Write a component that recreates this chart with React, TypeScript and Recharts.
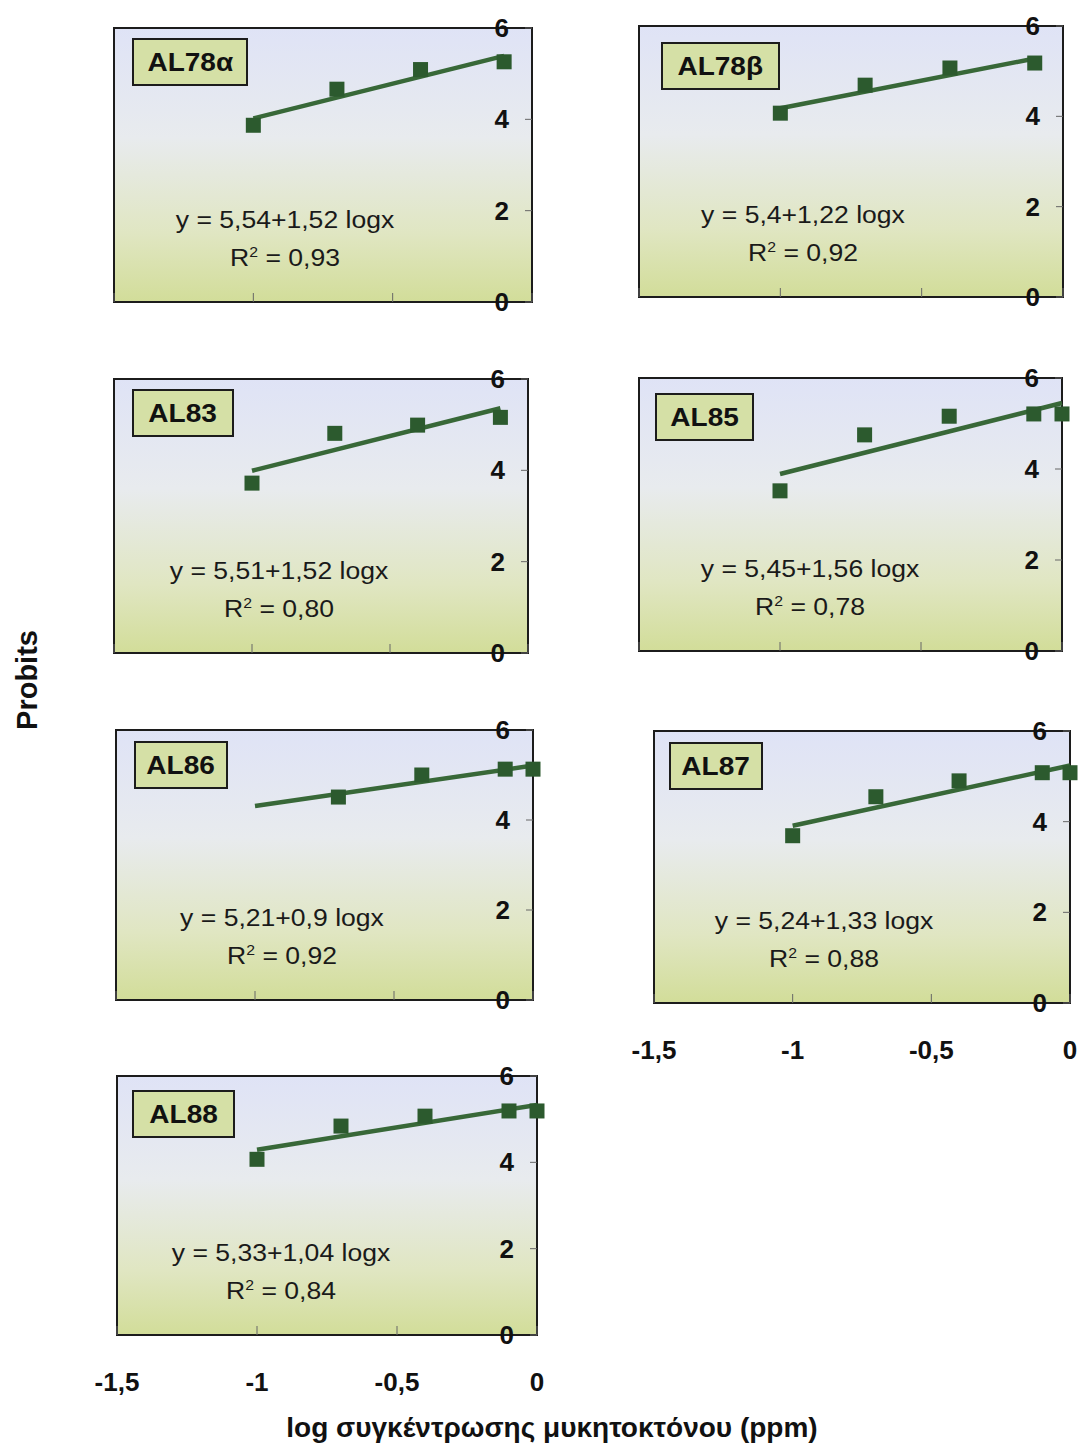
import { ComposedChart, Line, Scatter, XAxis, YAxis, ReferenceArea } from "recharts";

// log10 of the fungicide dose (0.1, 0.2, 0.4, 0.8, 1 ppm)
const LOG_DOSE = [-1, -0.7, -0.4, -0.1, 0];
const X_TICKS = [-1.5, -1, -0.5, 0];
const Y_TICKS = [0, 2, 4, 6];

// observed probits per isolate (null = no point drawn)
const AL78A = [3.87, 4.66, 5.09, 5.26, null];
const AL78B = [4.07, 4.69, 5.07, 5.18, null];
const AL83 = [3.72, 4.81, 4.99, 5.16, null];
const AL85 = [3.52, 4.75, 5.16, 5.21, 5.21];
const AL86 = [null, 4.51, 5.0, 5.13, 5.13];
const AL87 = [3.69, 4.55, 4.9, 5.08, 5.08];
const AL88 = [4.07, 4.84, 5.07, 5.19, 5.19];

// regression line end points [x, y]
const FIT_AL78A = [[-1, 4.02], [-0.1, 5.39]];
const FIT_AL78B = [[-1, 4.18], [-0.1, 5.28]];
const FIT_AL83 = [[-1, 3.99], [-0.1, 5.36]];
const FIT_AL85 = [[-1, 3.89], [0, 5.45]];
const FIT_AL86 = [[-1, 4.31], [0, 5.21]];
const FIT_AL87 = [[-1, 3.91], [0, 5.24]];
const FIT_AL88 = [[-1, 4.29], [0, 5.33]];

const NAMES = ["AL78α", "AL78β", "AL83", "AL85", "AL86", "AL87", "AL88"];
const EQUATIONS = [
  "y = 5,54+1,52 logx",
  "y = 5,4+1,22 logx",
  "y = 5,51+1,52 logx",
  "y = 5,45+1,56 logx",
  "y = 5,21+0,9 logx",
  "y = 5,24+1,33 logx",
  "y = 5,33+1,04 logx",
];
const R2 = ["0,93", "0,92", "0,80", "0,78", "0,92", "0,88", "0,84"];

const SERIES = [AL78A, AL78B, AL83, AL85, AL86, AL87, AL88];
const FITS = [FIT_AL78A, FIT_AL78B, FIT_AL83, FIT_AL85, FIT_AL86, FIT_AL87, FIT_AL88];

// plot box placement on the page
const LAYOUT = [
  { left: 114, top: 28, w: 418, h: 274, lx: 18, ly: 10, lw: 116, eqX: 171, xLabels: false },
  { left: 639, top: 26, w: 424, h: 271, lx: 22, ly: 16, lw: 119, eqX: 164, xLabels: false },
  { left: 114, top: 379, w: 414, h: 274, lx: 18, ly: 10, lw: 102, eqX: 165, xLabels: false },
  { left: 639, top: 378, w: 423, h: 273, lx: 16, ly: 15, lw: 99, eqX: 171, xLabels: false },
  { left: 116, top: 730, w: 417, h: 270, lx: 18, ly: 11, lw: 94, eqX: 166, xLabels: false },
  { left: 654, top: 731, w: 416, h: 272, lx: 15, ly: 11, lw: 94, eqX: 170, xLabels: true },
  { left: 117, top: 1076, w: 420, h: 259, lx: 15, ly: 14, lw: 103, eqX: 164, xLabels: true },
];

const PAD = { top: 20, right: 30, bottom: 70, left: 40 };
const LINE_COLOR = "#386838";
const MARK_COLOR = "#2c5a2e";
const FONT = "'Liberation Sans', Arial, sans-serif";

const fmt = (v: number) => String(v).replace(".", ",");

function XTick({ x, y, payload, showLabel }: any) {
  return (
    <g>
      <line x1={x} x2={x} y1={y} y2={y - 9} stroke="#666" strokeWidth={1} />
      {showLabel && (
        <text
          x={x}
          y={y + 47}
          textAnchor="middle"
          dominantBaseline="central"
          fontFamily={FONT}
          fontWeight="bold"
          fontSize={26}
          fill="#111"
        >
          {fmt(payload.value)}
        </text>
      )}
    </g>
  );
}

function YTick({ x, y, payload }: any) {
  return (
    <g>
      <line x1={x} x2={x - 7} y1={y} y2={y} stroke="#666" strokeWidth={1} />
      <text
        x={x - 23}
        y={y}
        textAnchor="end"
        dominantBaseline="central"
        fontFamily={FONT}
        fontWeight="bold"
        fontSize={26}
        fill="#111"
      >
        {payload.value}
      </text>
    </g>
  );
}

const squareShape = (props: any) => (
  <rect x={props.cx - 7.5} y={props.cy - 7.5} width={15} height={15} fill={MARK_COLOR} />
);

function Panel({ idx }: { idx: number }) {
  const box = LAYOUT[idx];
  // the 1px axes take one pixel each from the plot area
  const W = box.w + PAD.left + PAD.right + 1;
  const H = box.h + PAD.top + PAD.bottom + 1;
  const points = LOG_DOSE.map((x, i) => ({ x, y: SERIES[idx][i] })).filter((d) => d.y != null);
  const fit = FITS[idx].map(([x, y]) => ({ x, y }));
  const gid = `bg${idx}`;

  return (
    <div style={{ position: "absolute", left: box.left - PAD.left, top: box.top - PAD.top, width: W, height: H }}>
      <ComposedChart width={W} height={H} margin={PAD}>
        <defs>
          <linearGradient id={gid} x1="0" y1="0" x2="0" y2="1">
            <stop offset="0%" stopColor="#dfe3f6" />
            <stop offset="40%" stopColor="#e8ebee" />
            <stop offset="75%" stopColor="#e0e6c2" />
            <stop offset="100%" stopColor="#d2dd99" />
          </linearGradient>
        </defs>
        <ReferenceArea
          x1={-1.5}
          x2={0}
          y1={0}
          y2={6}
          fill={`url(#${gid})`}
          fillOpacity={1}
          stroke="#1c1c1c"
          strokeWidth={2}
        />
        <XAxis
          type="number"
          dataKey="x"
          domain={[-1.5, 0]}
          ticks={X_TICKS}
          interval={0}
          height={1}
          axisLine={false}
          tickLine={false}
          tickSize={0}
          tickMargin={0}
          tick={<XTick showLabel={box.xLabels} />}
        />
        <YAxis
          type="number"
          orientation="right"
          domain={[0, 6]}
          ticks={Y_TICKS}
          interval={0}
          width={1}
          axisLine={false}
          tickLine={false}
          tickSize={0}
          tickMargin={0}
          tick={<YTick />}
        />
        <Line
          data={fit}
          dataKey="y"
          type="linear"
          stroke={LINE_COLOR}
          strokeWidth={4.5}
          dot={false}
          isAnimationActive={false}
        />
        <Scatter data={points} dataKey="y" shape={squareShape} isAnimationActive={false} />
      </ComposedChart>

      <div
        style={{
          position: "absolute",
          left: PAD.left + box.lx,
          top: PAD.top + box.ly,
          width: box.lw,
          height: 48,
          boxSizing: "border-box",
          border: "2px solid #1c1c1c",
          background: "#d5e0a6",
          display: "flex",
          alignItems: "center",
          justifyContent: "center",
          fontFamily: FONT,
          fontWeight: "bold",
          fontSize: 25,
          color: "#111",
        }}
      >
        <span style={{ display: "inline-block", transform: "scaleX(1.12)" }}>{NAMES[idx]}</span>
      </div>

      <div
        style={{
          position: "absolute",
          left: PAD.left + box.eqX,
          top: PAD.top + box.h - 81,
          transform: "translate(-50%, -50%) scaleX(1.13)",
          whiteSpace: "nowrap",
          fontFamily: FONT,
          fontSize: 23.5,
          lineHeight: 1,
          color: "#1a1a1a",
        }}
      >
        {EQUATIONS[idx]}
      </div>
      <div
        style={{
          position: "absolute",
          left: PAD.left + box.eqX,
          top: PAD.top + box.h - 43,
          transform: "translate(-50%, -50%) scaleX(1.13)",
          whiteSpace: "nowrap",
          fontFamily: FONT,
          fontSize: 23.5,
          lineHeight: 1,
          color: "#1a1a1a",
        }}
      >
        R<sup style={{ fontSize: 14, verticalAlign: 0, position: "relative", top: -9 }}>2</sup> = {R2[idx]}
      </div>
    </div>
  );
}

export default function App() {
  return (
    <div style={{ position: "absolute", left: 0, top: 0, width: 1079, height: 1448, background: "#fff", fontFamily: FONT }}>
      {LAYOUT.map((_, i) => (
        <Panel key={i} idx={i} />
      ))}
      <div
        style={{
          position: "absolute",
          left: 27,
          top: 680,
          transform: "translate(-50%, -50%) rotate(-90deg)",
          fontWeight: "bold",
          fontSize: 29,
          color: "#111",
          whiteSpace: "nowrap",
        }}
      >
        Probits
      </div>
      <div
        style={{
          position: "absolute",
          left: 552,
          top: 1428,
          transform: "translate(-50%, -50%)",
          fontWeight: "bold",
          fontSize: 28,
          color: "#111",
          whiteSpace: "nowrap",
        }}
      >
        log συγκέντρωσης μυκητοκτόνου (ppm)
      </div>
    </div>
  );
}
